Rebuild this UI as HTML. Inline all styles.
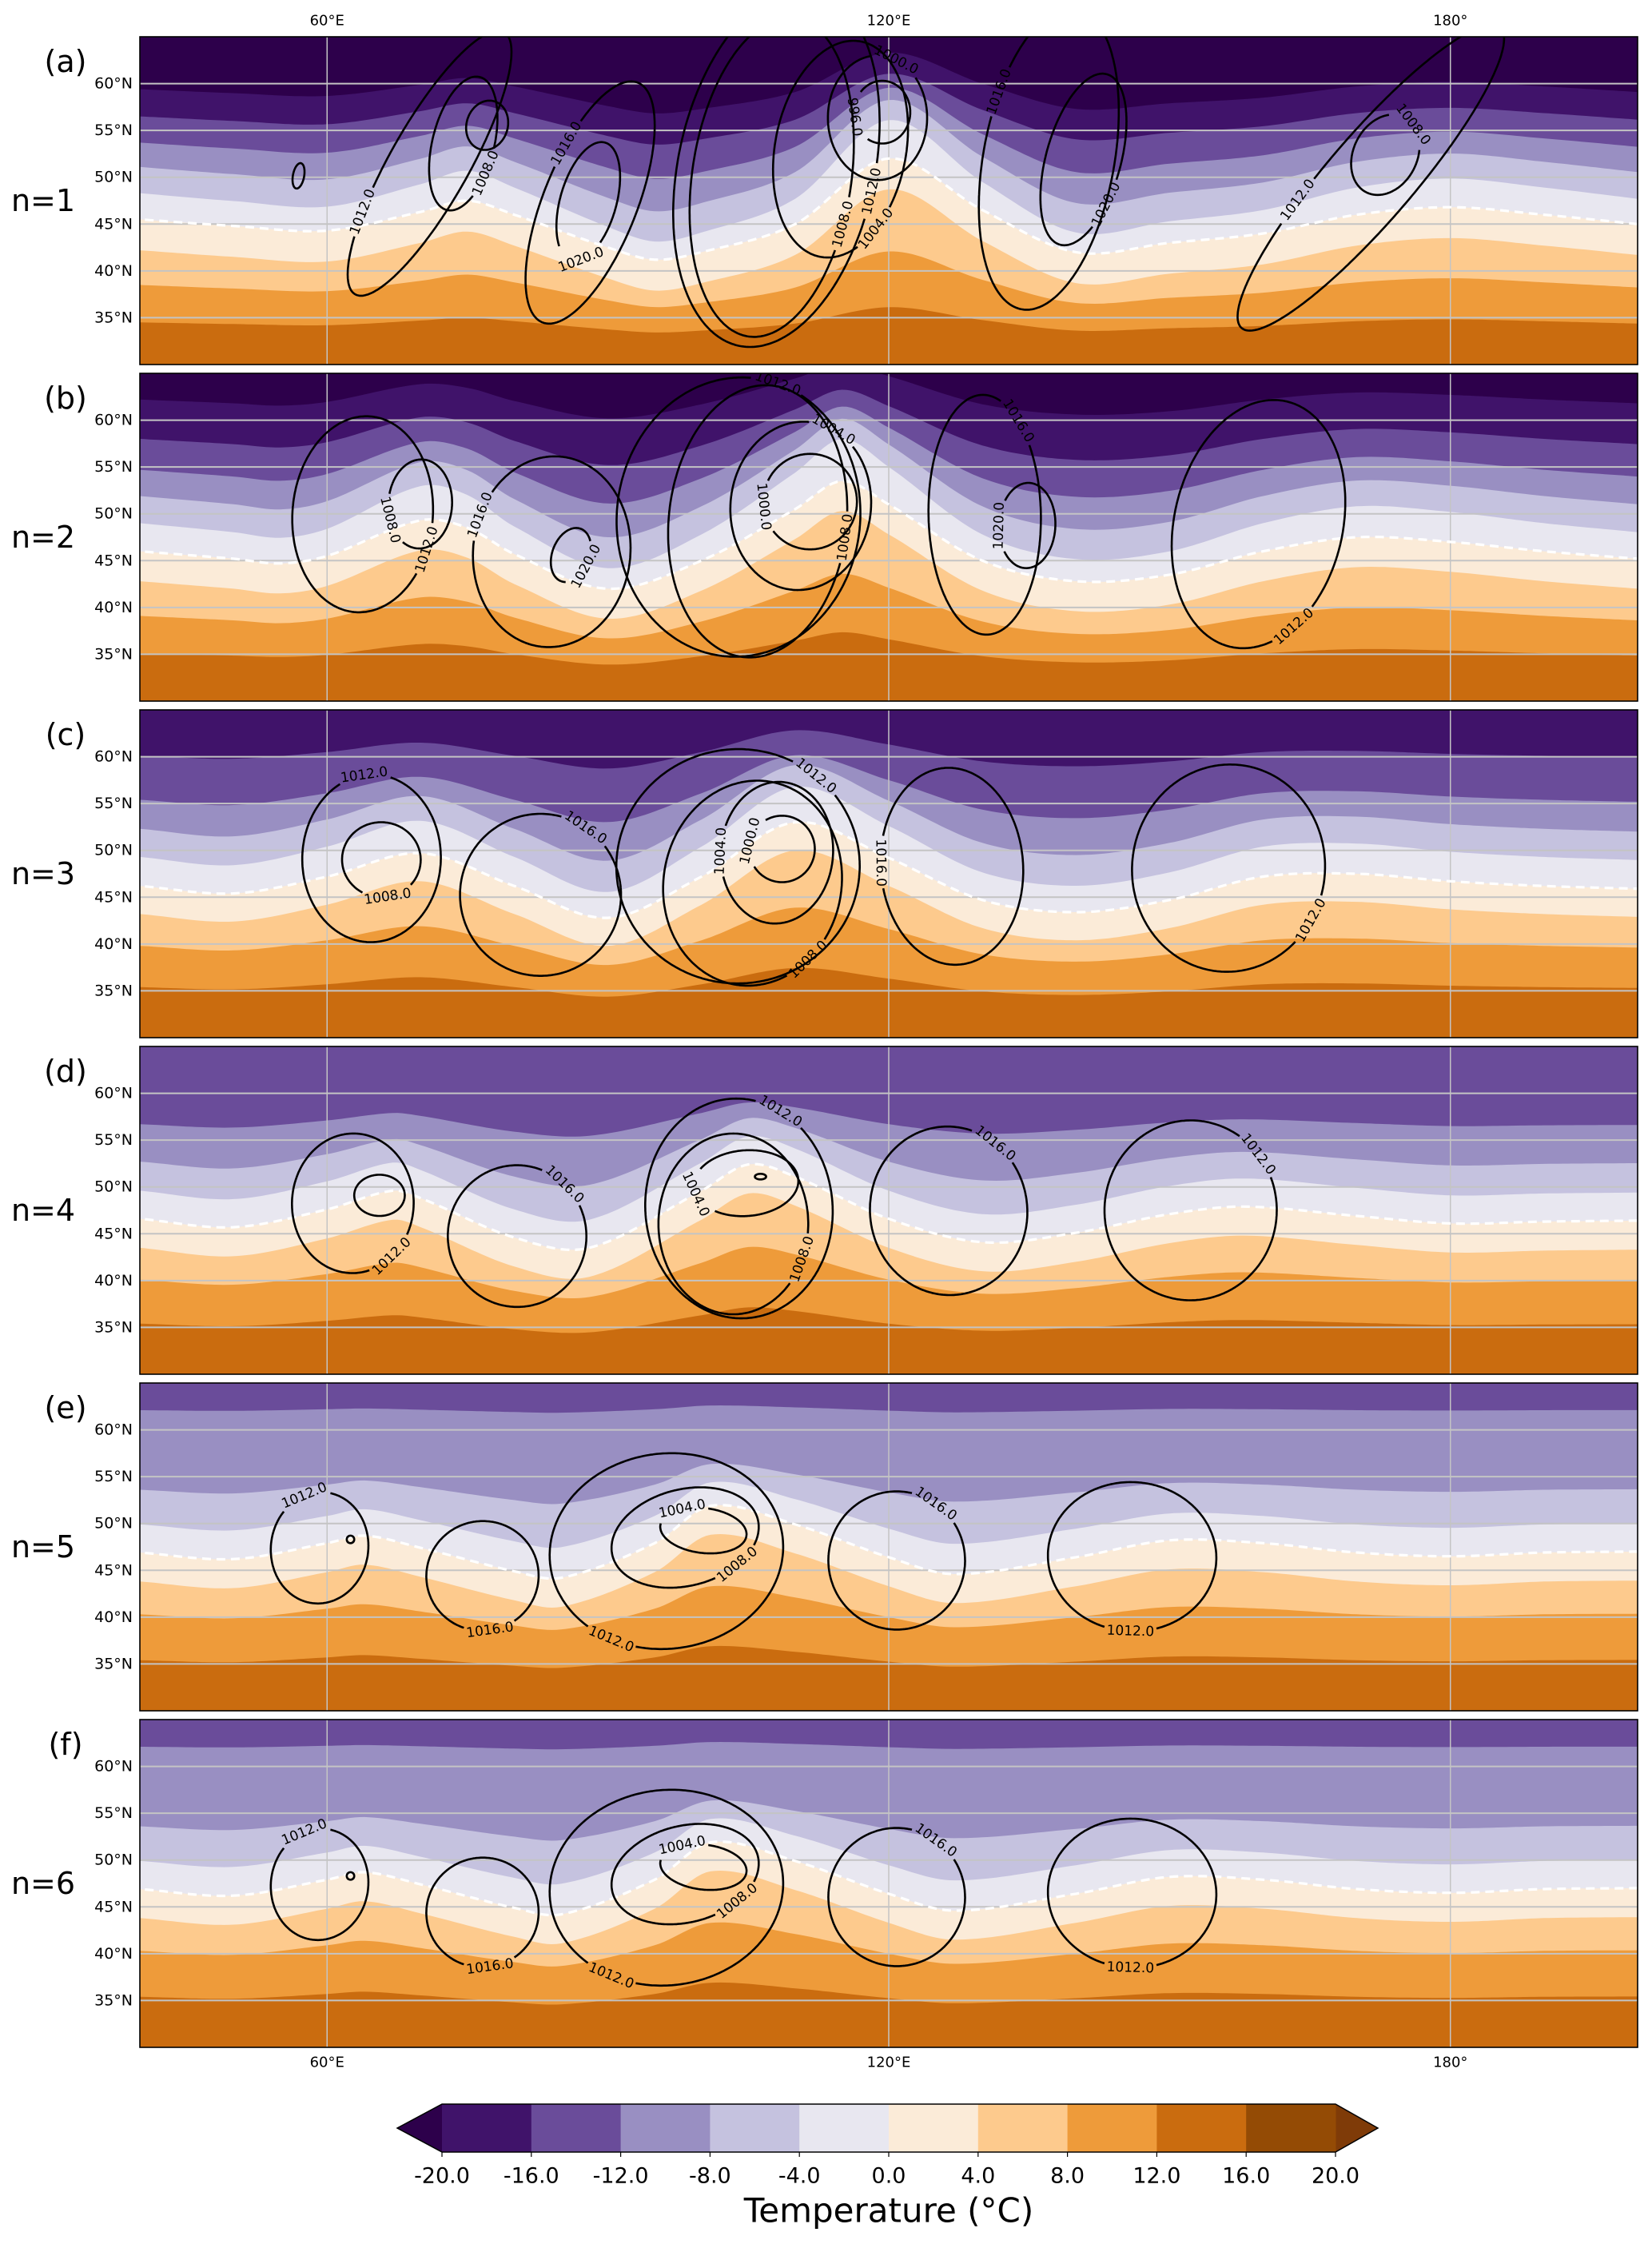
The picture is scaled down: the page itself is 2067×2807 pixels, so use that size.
<!DOCTYPE html>
<html><head><meta charset="utf-8"><title>Temperature and pressure panels</title>
<style>
html,body{margin:0;padding:0;background:#fff;}
svg{display:block;font-family:"DejaVu Sans","Liberation Sans",sans-serif;}
</style></head>
<body>
<svg id="fig" xmlns="http://www.w3.org/2000/svg" width="2067" height="2807" viewBox="0 0 2067 2807">
<rect x="0" y="0" width="2067" height="2807" fill="#ffffff"/>
</svg>
<script>
// ===== data =====
const isoLevels=[-20,-16,-12,-8,-4,0,4,8,12,16];
const cbLevels=[-20,-16,-12,-8,-4,0,4,8,12,16,20];
const bandColors=["#40136a","#6a4c9a","#998fc2","#c5c2df","#e8e7f0","#fbebd8","#fdca8d","#ee9b3a","#ca6c0f","#944b05"];
const underColor="#2d004b", overColor="#7f3b08";
const panelLetters=["(a)","(b)","(c)","(d)","(e)","(f)"];
const panelNames=["n=1","n=2","n=3","n=4","n=5","n=6"];
const latTicks=[35,40,45,50,55,60];
const lonTicks=[60,120,180];
const lonTickLabels=["60°E","120°E","180°"];

const baseA=[59.4,56.5,53.7,51.1,48.3,45.5,42.2,38.5,34.5,25];
const baseB=[62.2,58.0,54.7,51.9,49.0,46.0,42.8,39.1,35.1,25];
const baseC=[70,60.1,55.4,52.3,49.3,46.2,43.2,39.8,35.4,25];
const baseD=[75,70,56.7,52.7,49.6,46.6,43.5,40.1,35.4,25];
const baseE=[75,70,62.1,53.6,49.9,46.9,43.8,40.3,35.4,25];
const baseF=[75,70,62.1,53.6,49.9,46.9,43.8,40.3,35.4,25];
const ampA=[0.6,0.7,0.9,1.1,1.2,1,1,0.55,0.25,0.1];
const ampB=[0.5,0.7,0.9,1.1,1.2,1,1,0.6,0.3,0.1];
const ampC=[0,0.4,0.7,1.0,1.1,1,1,0.6,0.3,0.1];
const ampD=[0,0,0.4,0.8,1.0,1,1,0.6,0.3,0.1];
const ampE=[0,0,0.1,0.55,0.9,1,1,0.6,0.3,0.1];
const ampF=[0,0,0.1,0.55,0.9,1,1,0.6,0.3,0.1];
const waveLonA=[40,50,60,70,75,80,90,95,100,110,120,130,140,150,160,170,180,190,200];
const waveOffA=[0,-0.7,-1.2,0.8,2,0.5,-3,-4.3,-3.5,-0.5,6.5,1,-3.5,-2.5,-1.5,0.5,1.3,0.5,-0.5];
const waveLonB=[40,50,55,60,70,75,80,90,100,110,115,120,130,140,150,160,170,180,190,200];
const waveOffB=[0,-0.8,-1.3,-0.5,3.3,2.5,-0.3,-4,-1,4.5,7.5,5,-1,-3.2,-2.5,0,1.5,1,0,-0.8];
const waveLonC=[40,50,60,70,80,90,100,110,120,130,140,150,160,170,180,190,200];
const waveOffC=[0,-0.8,1,3.5,0,-3.4,1,6.8,3,-1.5,-2.8,-1.5,1,1.3,0.5,0,-0.3];
const waveLonD=[40,50,60,67,70,80,88,100,105,110,120,130,140,150,158,170,180,190,200];
const waveOffD=[0,-0.9,1,3,2.2,-2,-3.1,3,5.8,4.5,0,-2.5,-1.5,0.5,1.3,0.3,-0.5,-0.3,-0.2];
const waveLonE=[40,50,60,64,70,80,85,95,101,110,120,127,140,150,160,170,180,190,200];
const waveOffE=[0,-0.7,1,1.8,0.5,-2,-2.7,1,5,3,-0.5,-2.3,-0.5,1.3,1,0,-0.4,0,0.1];
const waveLonF=[40,50,60,64,70,80,85,95,101,110,120,127,140,150,160,170,180,190,200];
const waveOffF=[0,-0.7,1,1.8,0.5,-2,-2.7,1,5,3,-0.5,-2.3,-0.5,1.3,1,0,-0.4,0,0.1];

// pressure contours: [lon1,lat1,lon2,lat2,halfWidthDeg,label,labelLon,labelLat]
const isobarsA=[
 [57.2,51.5,56.7,48.8,0.6,null],
 [77.9,58.1,76.3,53.0,2.2,null],
 [76.3,60.7,72.8,46.5,3.3,"1008.0",77.9,50.0],
 [78.9,65.5,63,37.5,4.2,"1012.0",65.1,45.9],
 [89.7,53.7,86.1,41.1,3,"1020.0",87.1,41.3],
 [93.2,60.1,83,34.5,5,"1016.0",86.6,53.0],
 [119.3,60.3,119.3,53.6,3,"996.0",115.6,56.3],
 [118.8,63,118.8,49.7,5.3,"1000.0",120.3,61.5],
 [117,64.5,112.7,41.5,7,"1004.0",116.8,46.0],
 [110,67,105,33,8.5,"1008.0",110.6,46.2],
 [112,70,104,32,10.5,"1012.0",126.5,46.6],
 [143.3,61,138.3,42.8,4,"1020.0",146.5,45.5],
 [140,68,134.2,35.9,7,"1016.0",134.7,58.1],
 [175.1,56.4,171,48.4,3.4,"1008.0",176.6,56.1],
 [185.3,66,157.7,33.9,4.6,"1012.0",161.3,49.3]
];
const isobarsB=[
 [70.2,55.8,69.7,46.3,3.4,"1008.0",66.6,49.3],
 [64.6,60.4,63,39.5,7.5,"1012.0",73.8,45.3],
 [87.1,48.4,85,42.8,2,"1020.0",88.6,43.9],
 [85,56.1,83,35.8,8.4,"1016.0",79.4,48.7],
 [111.6,56.4,111.6,46.2,5,"1000.0",109.1,51],
 [111.6,59.8,109.6,41.9,7.5,"1004.0",113.2,57.5],
 [107.5,63.7,104.5,34.7,9.5,"1008.0",118.8,47],
 [105.5,64.5,102.4,34.8,13,"1012.0",108,63.4],
 [135,53.3,134.6,44.2,3,"1020.0",131.6,48.7],
 [130,62.7,130.5,37.1,6,"1016.0",136.2,61.4],
 [162.5,62,156.5,35.8,9,"1012.0",163.3,37.9]
];
const isobarsC=[
 [66,53,65.6,45,4.2,"1008.0",66.1,47.5],
 [65,58.1,64.5,40.2,7.4,"1012.0",64,57.8],
 [82.8,53.9,82.8,36.6,8.6,"1016.0",87.1,51.6],
 [108.6,53.7,108.6,46.6,3.5,"1000.0",108.5,50.2],
 [108.6,57.3,107.5,42.2,6,"1004.0",102.4,49.9],
 [107.5,57.3,103.4,35.7,9.5,"1008.0",107,42.9],
 [103.4,60.8,104.4,35.8,13,"1012.0",113.1,59],
 [126,58.8,127.5,37.8,7.6,"1016.0",121.4,48.7],
 [157.6,59.1,155,37.1,10.3,"1012.0",166.8,41.6]
];
const isobarsD=[
 [65.6,51.3,65.6,46.9,2.7,null],
 [63,55.7,62.5,40.8,6.5,"1012.0",67.1,42.3],
 [79.8,52.3,80.8,37.2,7.4,"1016.0",85,49.9],
 [106.3,51.4,106.3,50.8,0.6,null],
 [104.5,53.9,105,46.9,5.6,"1004.0",100.4,49.7],
 [103.4,55.7,103.4,36.4,8,"1008.0",108,43.2],
 [103,59.4,105,36,10,"1012.0",108.5,58.1],
 [125.4,56.4,127.4,38.5,8.4,"1016.0",131.5,54.8],
 [152.5,57.1,152,37.9,9.2,"1012.0",161.7,55.1]
];
const isobarsE=[
 [62.5,48.7,62.5,47.9,0.4,null],
 [60,53.3,58.4,41.5,5.2,"1012.0",57.4,53.4],
 [75.8,50.2,77.4,38.6,6,"1016.0",77.4,38.3],
 [95.6,49.8,104.8,48.7,2.4,"1004.0",97.9,51.7],
 [97,53.5,99.5,43.5,8,"1008.0",104.6,44.7],
 [95,57.4,97.5,36.7,12.5,"1012.0",92.3,42.5],
 [120.2,53.4,121.5,38.7,7.3,"1016.0",124.3,51.1],
 [146.5,54.4,145.5,38.5,9,"1012.0",145.8,39.3]
];
const isobarsF=[
 [62.5,48.7,62.5,47.9,0.4,null],
 [60,53.3,58.4,41.5,5.2,"1012.0",57.4,53.4],
 [75.8,50.2,77.4,38.6,6,"1016.0",77.4,38.3],
 [95.6,49.8,104.8,48.7,2.4,"1004.0",97.9,51.7],
 [97,53.5,99.5,43.5,8,"1008.0",104.6,44.7],
 [95,57.4,97.5,36.7,12.5,"1012.0",92.3,42.5],
 [120.2,53.4,121.5,38.7,7.3,"1016.0",124.3,51.1],
 [146.5,54.4,145.5,38.5,9,"1012.0",145.8,39.3]
];

// ===== layout =====
const panelTops=[46,467,888,1309,1730,2151];
const X0=175, PW=1874, PH=410, LON0=40, LON1=200, LAT0=30, LAT1=65;
const KX=PW/(LON1-LON0), KY=PH/(LAT1-LAT0);
const NS="http://www.w3.org/2000/svg";
const svg=document.getElementById('fig');
function el(tag,attrs,parent){const e=document.createElementNS(NS,tag);for(const k in attrs)e.setAttribute(k,attrs[k]);(parent||svg).appendChild(e);return e;}
function xOf(lon){return X0+(lon-LON0)*KX;}
function interp(xs,ys,x){
  const n=xs.length;
  if(x<=xs[0])return ys[0]; if(x>=xs[n-1])return ys[n-1];
  let i=0; while(xs[i+1]<x)i++;
  const slope=j=>{ if(j===0)return (ys[1]-ys[0])/(xs[1]-xs[0]); if(j===n-1)return (ys[n-1]-ys[n-2])/(xs[n-1]-xs[n-2]); return (ys[j+1]-ys[j-1])/(xs[j+1]-xs[j-1]);};
  const h=xs[i+1]-xs[i], t=(x-xs[i])/h, m0=slope(i)*h, m1=slope(i+1)*h;
  const t2=t*t,t3=t2*t;
  return (2*t3-3*t2+1)*ys[i]+(t3-2*t2+t)*m0+(-2*t3+3*t2)*ys[i+1]+(t3-t2)*m1;
}
const panels=[
 {base:baseA,amp:ampA,wl:waveLonA,wo:waveOffA,iso:isobarsA},
 {base:baseB,amp:ampB,wl:waveLonB,wo:waveOffB,iso:isobarsB},
 {base:baseC,amp:ampC,wl:waveLonC,wo:waveOffC,iso:isobarsC},
 {base:baseD,amp:ampD,wl:waveLonD,wo:waveOffD,iso:isobarsD},
 {base:baseE,amp:ampE,wl:waveLonE,wo:waveOffE,iso:isobarsE},
 {base:baseF,amp:ampF,wl:waveLonF,wo:waveOffF,iso:isobarsF}
];

const defs=el('defs',{});
panels.forEach((P,pi)=>{
  const top=panelTops[pi];
  const yOf=lat=>top+(LAT1-lat)*KY;
  const cp=el('clipPath',{id:'clip'+pi},defs);
  el('rect',{x:X0,y:top,width:PW,height:PH},cp);
  const g=el('g',{'clip-path':'url(#clip'+pi+')'});
  
  
  const bg=el('rect',{x:X0,y:top,width:PW,height:PH,fill:underColor},g);
  
  
  const boundary=k=>{const pts=[];for(let lon=LON0-1;lon<=LON1+1;lon+=0.5){const lat=P.base[k]+P.amp[k]*interp(P.wl,P.wo,lon);pts.push([xOf(lon),yOf(lat)]);}return pts;};
  for(let k=0;k<isoLevels.length;k++){
    const pts=boundary(k);
    let d='M'+pts.map(p=>p[0].toFixed(1)+','+p[1].toFixed(1)).join(' L');
    d+=' L'+xOf(LON1+1)+','+(top+PH+20)+' L'+xOf(LON0-1)+','+(top+PH+20)+' Z';
    const b=el('path',{d:d,fill:bandColors[k]},g);
    
    
  }
  latTicks.forEach(lat=>{const l=el('line',{x1:X0,x2:X0+PW,y1:yOf(lat),y2:yOf(lat),stroke:'#c4c4c4','stroke-width':2},g);
    
    });
  lonTicks.forEach(lon=>{const l=el('line',{x1:xOf(lon),x2:xOf(lon),y1:top,y2:top+PH,stroke:'#c4c4c4','stroke-width':1.5},g);
    
    });
  const z=boundary(5);
  const zl=el('path',{d:'M'+z.map(p=>p[0].toFixed(1)+','+p[1].toFixed(1)).join(' L'),fill:'none',stroke:'#ffffff','stroke-width':3.2,'stroke-dasharray':'11,7'},g);
  
  
  P.iso.forEach((c,ci)=>{
    const x1=xOf(c[0]),y1=yOf(c[1]),x2=xOf(c[2]),y2=yOf(c[3]);
    const cx=(x1+x2)/2,cy=(y1+y2)/2;
    let a=Math.hypot(x2-x1,y2-y1)/2; const b=c[4]*KX; if(a<b*0.3)a=b*0.3;
    let ux=(x2-x1),uy=(y2-y1);const L=Math.hypot(ux,uy)||1;ux/=L;uy/=L; if(L<0.01){ux=0;uy=1;}
    const vx=-uy,vy=ux;
    const N=360,pts=[];
    for(let i=0;i<N;i++){const t=i/N*2*Math.PI;pts.push([cx+a*Math.cos(t)*ux+b*Math.sin(t)*vx, cy+a*Math.cos(t)*uy+b*Math.sin(t)*vy]);}
    let lab=null;
    if(c[5]){
      const lx=xOf(c[6]),ly=yOf(c[7]);let best=0,bd=1e9;
      pts.forEach((p,i)=>{const d=Math.hypot(p[0]-lx,p[1]-ly);if(d<bd){bd=d;best=i;}});
      const p=pts[best],q=pts[(best+1)%N],r=pts[(best+N-1)%N];
      let ang=Math.atan2(q[1]-r[1],q[0]-r[0])*180/Math.PI;
      if(ang>90)ang-=180; if(ang<=-90)ang+=180;
      lab={x:p[0],y:p[1],ang:ang};
    }
    let segs=[],cur=[];
    for(let i=0;i<=N;i++){const p=pts[i%N];
      if(lab&&Math.hypot(p[0]-lab.x,p[1]-lab.y)<32){if(cur.length>1)segs.push(cur);cur=[];}
      else cur.push(p);}
    if(cur.length>1)segs.push(cur);
    const d=segs.map(s=>'M'+s.map(p=>p[0].toFixed(1)+','+p[1].toFixed(1)).join(' L')).join(' ');
    const path=el('path',{d:d,fill:'none',stroke:'#000','stroke-width':2.6,'stroke-linejoin':'round'},g);
    
    
    if(lab){
      const t=el('text',{x:lab.x,y:lab.y,'font-size':17,'text-anchor':'middle','dominant-baseline':'central',transform:'rotate('+lab.ang.toFixed(1)+' '+lab.x.toFixed(1)+' '+lab.y.toFixed(1)+')',fill:'#000'},g);
      t.textContent=c[5];
      
      
    }
  });
  const fr=el('rect',{x:X0,y:top,width:PW,height:PH,fill:'none',stroke:'#000','stroke-width':1.6});
  
  
  latTicks.forEach(lat=>{const t=el('text',{x:166,y:yOf(lat),'font-size':19,'text-anchor':'end','dominant-baseline':'central',fill:'#000'});
    t.textContent=lat+'°N';
    
    });
  const lt=el('text',{x:82,y:top+31,'font-size':38,'text-anchor':'middle','dominant-baseline':'central',fill:'#000'});
  lt.textContent=panelLetters[pi];
  
  
  const nt=el('text',{x:54,y:top+PH/2,'font-size':38,'text-anchor':'middle','dominant-baseline':'central',fill:'#000'});
  nt.textContent=panelNames[pi];
  
  
});
lonTicks.forEach((lon,i)=>{
  const t1=el('text',{x:xOf(lon),y:26,'font-size':18,'text-anchor':'middle','dominant-baseline':'central',fill:'#000'});
  t1.textContent=lonTickLabels[i];
  
  
  const t2=el('text',{x:xOf(lon),y:2580,'font-size':18,'text-anchor':'middle','dominant-baseline':'central',fill:'#000'});
  t2.textContent=lonTickLabels[i];
  
  
});
const CB0=553,CB1=1671,CBT=2632,CBB=2692;
const cbX=v=>CB0+(v-cbLevels[0])/(cbLevels[cbLevels.length-1]-cbLevels[0])*(CB1-CB0);
const cbg=el('g',{});


const ltr=el('path',{d:`M${CB0},${CBT} L497,${(CBT+CBB)/2} L${CB0},${CBB} Z`,fill:underColor},cbg);


const rtr=el('path',{d:`M${CB1},${CBT} L1724,${(CBT+CBB)/2} L${CB1},${CBB} Z`,fill:overColor},cbg);


for(let i=0;i<bandColors.length;i++){
  const r=el('rect',{x:cbX(cbLevels[i]),y:CBT,width:cbX(cbLevels[i+1])-cbX(cbLevels[i])+0.5,height:CBB-CBT,fill:bandColors[i]},cbg);
  
  
}
const outline=el('path',{d:`M${CB0},${CBT} L${CB1},${CBT} L1724,${(CBT+CBB)/2} L${CB1},${CBB} L${CB0},${CBB} L497,${(CBT+CBB)/2} Z`,fill:'none',stroke:'#000','stroke-width':1.5},cbg);


cbLevels.forEach(v=>{
  el('line',{x1:cbX(v),x2:cbX(v),y1:CBB,y2:CBB+6,stroke:'#000','stroke-width':1.2},cbg);
  const t=el('text',{x:cbX(v),y:2722,'font-size':27,'text-anchor':'middle','dominant-baseline':'central',fill:'#000'},cbg);
  t.textContent=v.toFixed(1);
  
  
});
const ct=el('text',{x:1112,y:2765,'font-size':42,'text-anchor':'middle','dominant-baseline':'central',fill:'#000'});
ct.textContent='Temperature (°C)';


</script>
</body></html>
